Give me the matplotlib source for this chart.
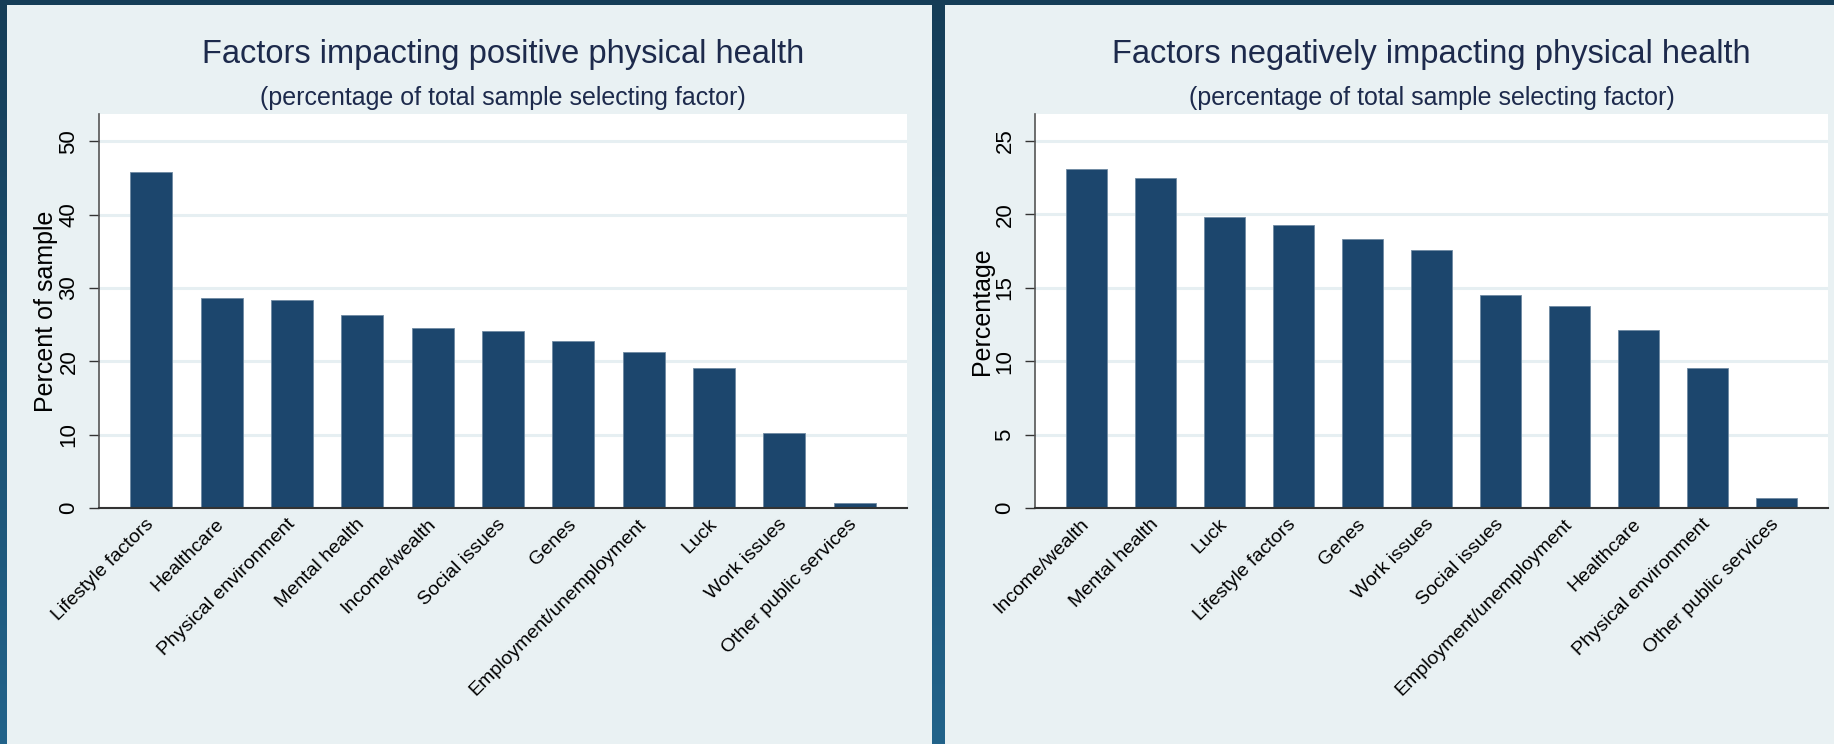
import matplotlib

matplotlib.use("Agg")

import numpy as np
from matplotlib import pyplot as plt
from matplotlib.patches import Rectangle

plt.rcParams["font.family"] = ["Liberation Sans", "DejaVu Sans"]

# left chart: positive factors
pos_factors = [
    "Lifestyle factors", "Healthcare", "Physical environment", "Mental health",
    "Income/wealth", "Social issues", "Genes", "Employment/unemployment",
    "Luck", "Work issues", "Other public services",
]
pos_values = [45.8, 28.65, 28.4, 26.3, 24.6, 24.1, 22.7, 21.2, 19.1, 10.2, 0.7]
pos_ticks = [0, 10, 20, 30, 40, 50]

# right chart: negative factors
neg_factors = [
    "Income/wealth", "Mental health", "Luck", "Lifestyle factors", "Genes",
    "Work issues", "Social issues", "Employment/unemployment", "Healthcare",
    "Physical environment", "Other public services",
]
neg_values = [23.1, 22.5, 19.85, 19.3, 18.3, 17.55, 14.5, 13.75, 12.1, 9.55, 0.65]
neg_ticks = [0, 5, 10, 15, 20, 25]

W, H = 1834, 744
BAR = "#1c466d"
PANEL = "#e9f1f3"
TITLE = "#1d2a4c"


def fx(px):
    return px / W


def fy(py):
    return 1 - py / H


def draw_panel(fig, rect_px, factors, values, ticks, ymax, ylabel, title):
    x0, top, x1, bottom = rect_px
    ax = fig.add_axes([fx(x0), fy(bottom), fx(x1 - x0), (bottom - top) / H])
    xs = np.arange(len(factors))
    ax.bar(xs, values, width=0.6, color=BAR, edgecolor="#6f8aa3", linewidth=0.6, zorder=2)
    ax.set_xlim(-0.745, len(factors) - 1 + 0.745)
    ax.set_ylim(0, ymax)
    ax.set_facecolor("white")
    ax.set_axisbelow(True)
    ax.grid(axis="y", color="#e6eff2", linewidth=2.2)

    ax.set_yticks(ticks)
    ax.tick_params(axis="y", length=7, width=1, color="#333333", pad=7, labelsize=16, labelrotation=90)
    for lab in ax.get_yticklabels():
        lab.set_va("center")
    ax.set_xticks(xs)
    ax.set_xticklabels(factors, rotation=45, ha="right", va="center", rotation_mode="anchor", fontsize=14)
    ax.tick_params(axis="x", length=0, pad=10)

    for side in ("top", "right"):
        ax.spines[side].set_visible(False)
    ax.spines["left"].set_color("#555555")
    ax.spines["left"].set_linewidth(1.2)
    ax.spines["bottom"].set_color("#333333")
    ax.spines["bottom"].set_linewidth(1.5)

    ax.set_ylabel(ylabel, fontsize=18, va="center")
    ax.yaxis.set_label_coords(-53.5 / (x1 - x0), 0.5)

    cx = fx((x0 + x1) / 2)
    fig.text(cx, fy(63), title, ha="center", va="baseline", fontsize=23.5, color=TITLE)
    fig.text(cx, fy(105), "(percentage of total sample selecting factor)",
             ha="center", va="baseline", fontsize=18, color=TITLE)
    return ax


fig = plt.figure(figsize=(W / 100, H / 100), dpi=100)

# dark slide background with a soft vertical gradient
bg = fig.add_axes([0, 0, 1, 1], zorder=-10)
top_c = np.array([0x15, 0x3d, 0x57]) / 255
bot_c = np.array([0x22, 0x63, 0x8a]) / 255
t = np.linspace(0, 1, 256)[:, None, None]
bg.imshow(top_c * (1 - t) + bot_c * t, aspect="auto", extent=[0, 1, 0, 1])
bg.axis("off")

fig.patches.append(Rectangle((fx(7), 0), fx(932 - 7), fy(5), transform=fig.transFigure,
                             facecolor=PANEL, edgecolor="none", zorder=-5))
fig.patches.append(Rectangle((fx(945), 0), fx(W - 945), fy(5), transform=fig.transFigure,
                             facecolor=PANEL, edgecolor="none", zorder=-5))

draw_panel(fig, (99, 114, 907, 508), pos_factors, pos_values, pos_ticks, 53.7,
           "Percent of sample", "Factors impacting positive physical health")
draw_panel(fig, (1035, 114, 1828, 508), neg_factors, neg_values, neg_ticks, 26.84,
           "Percentage", "Factors negatively impacting physical health")

fig.savefig("out.png", dpi=100)
plt.close(fig)
